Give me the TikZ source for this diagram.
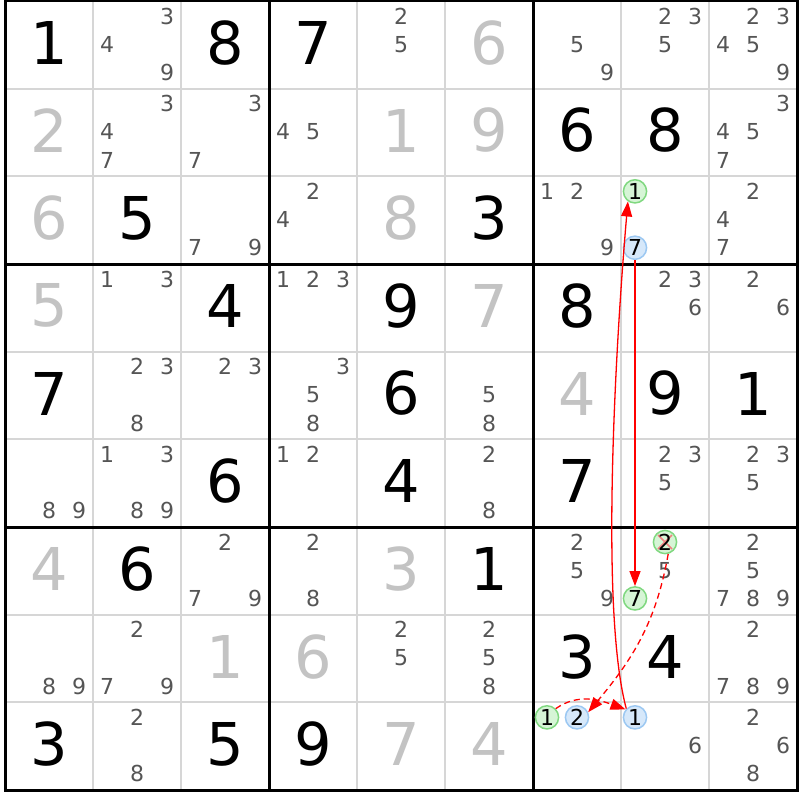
\documentclass[tikz,border=0pt]{standalone}
\usepackage{fontspec}
\setmainfont{DejaVu Sans}
\usetikzlibrary{arrows.meta}
\definecolor{candgray}{HTML}{555555}
\definecolor{givgray}{HTML}{C3C3C3}
\definecolor{gridgray}{HTML}{D6D6D6}
\definecolor{hlgreen}{HTML}{D6F5D6}
\definecolor{hlgreenline}{HTML}{80D880}
\definecolor{hlblue}{HTML}{D6E8FA}
\definecolor{hlblueline}{HTML}{9CC8F2}
\definecolor{xred}{HTML}{F08080}
\newcommand\bigfnt{\fontsize{59pt}{60pt}\selectfont}
\newcommand\candfnt{\fontsize{22pt}{22pt}\selectfont}
\def\gx{5}
\def\gy{1}
\def\W{88}
\def\H{87.67}
\tikzset{
  bigblack/.style={inner sep=0pt,font=\bigfnt,text=black},
  biggray/.style={inner sep=0pt,font=\bigfnt,text=givgray},
  cand/.style={inner sep=0pt,font=\candfnt,text=candgray},
  hl/.style={circle,inner sep=0pt,minimum size=23.2pt,line width=1.5pt,font=\candfnt,text=black},
  hlg/.style={hl,draw=hlgreenline,fill=hlgreen},
  hlb/.style={hl,draw=hlblueline,fill=hlblue},
  thingrid/.style={draw=gridgray,line width=2pt},
  thickgrid/.style={draw=black,line width=3pt,line cap=rect},
  rarr/.style={draw=red,line width=1.3pt,-{Triangle[length=15pt,width=11pt]}},
  dsh/.style={dash pattern=on 6pt off 4pt}
}
\begin{document}
\begin{tikzpicture}[x=1pt,y=1pt]
\useasboundingbox (0,0) rectangle (800,-800);
\fill[white] (0,0) rectangle (800,-800);
% grid
\foreach \i in {1,2,4,5,7,8} {
  \draw[thingrid] ({\gx+\W*\i},{-\gy}) -- ({\gx+\W*\i},{-(\gy+9*\H)});
  \draw[thingrid] ({\gx},{-(\gy+\H*\i)}) -- ({\gx+9*\W},{-(\gy+\H*\i)});
}
\foreach \i in {0,3,6,9} {
  \draw[thickgrid] ({\gx+\W*\i},{-\gy}) -- ({\gx+\W*\i},{-(\gy+9*\H)});
  \draw[thickgrid] ({\gx},{-(\gy+\H*\i)}) -- ({\gx+9*\W},{-(\gy+\H*\i)});
}
% big black digits
\foreach \r/\c/\d in {0/0/1,0/2/8,0/3/7,1/6/6,1/7/8,2/1/5,2/5/3,3/2/4,3/4/9,3/6/8,4/0/7,4/4/6,4/7/9,4/8/1,5/2/6,5/4/4,5/6/7,6/1/6,6/5/1,7/6/3,7/7/4,8/0/3,8/2/5,8/3/9} {
  \pgfmathsetmacro\px{\gx+\W*(\c+0.5)}
  \pgfmathsetmacro\py{-(\gy+\H*(\r+0.5)-2)}
  \node[bigblack] (v\r\c) at (\px,\py) {\d};
}
% big gray digits
\foreach \r/\c/\d in {0/5/6,1/0/2,1/4/1,1/5/9,2/0/6,2/4/8,3/0/5,3/5/7,4/6/4,6/0/4,6/4/3,7/2/1,7/3/6,8/4/7,8/5/4} {
  \pgfmathsetmacro\px{\gx+\W*(\c+0.5)}
  \pgfmathsetmacro\py{-(\gy+\H*(\r+0.5)-2)}
  \node[biggray] (v\r\c) at (\px,\py) {\d};
}
% candidates
\foreach \r/\c/\L in {0/1/{3,4,9},0/4/{2,5},0/6/{5,9},0/7/{2,3,5},0/8/{2,3,4,5,9},
  1/1/{3,4,7},1/2/{3,7},1/3/{4,5},1/8/{3,4,5,7},
  2/2/{7,9},2/3/{2,4},2/6/{1,2,9},2/8/{2,4,7},
  3/1/{1,3},3/3/{1,2,3},3/7/{2,3,6},3/8/{2,6},
  4/1/{2,3,8},4/2/{2,3},4/3/{3,5,8},4/5/{5,8},
  5/0/{8,9},5/1/{1,3,8,9},5/3/{1,2},5/5/{2,8},5/7/{2,3,5},5/8/{2,3,5},
  6/2/{2,7,9},6/3/{2,8},6/6/{2,5,9},6/7/{5},6/8/{2,5,7,8,9},
  7/0/{8,9},7/1/{2,7,9},7/4/{2,5},7/5/{2,5,8},7/8/{2,7,8,9},
  8/1/{2,8},8/7/{6},8/8/{2,6,8}} {
  \foreach \d in \L {
    \pgfmathsetmacro\px{\gx+\W*\c+44+30*(mod(\d-1,3)-1)}
    \pgfmathsetmacro\py{-(\gy+\H*\r+43.2+28.2*(floor((\d-1)/3)-1))}
    \node[cand] (k\r\c\d) at (\px,\py) {\d};
  }
}
% highlighted candidates
\foreach \r/\c/\d in {2/7/1,6/7/7,8/6/1} {
  \pgfmathsetmacro\px{\gx+\W*\c+44+30*(mod(\d-1,3)-1)}
  \pgfmathsetmacro\py{-(\gy+\H*\r+43.2+28.2*(floor((\d-1)/3)-1))}
  \node[hlg] (g\r\c\d) at (\px,\py) {\d};
}
\foreach \r/\c/\d in {2/7/7,8/6/2,8/7/1} {
  \pgfmathsetmacro\px{\gx+\W*\c+44+30*(mod(\d-1,3)-1)}
  \pgfmathsetmacro\py{-(\gy+\H*\r+43.2+28.2*(floor((\d-1)/3)-1))}
  \node[hlb] (b\r\c\d) at (\px,\py) {\d};
}
\pgfmathsetmacro\px{\gx+\W*7+44}
\pgfmathsetmacro\py{-(\gy+\H*6+15)}
\node[hlg,path picture={
  \draw[xred,line width=1.5pt] ([shift={(-7,7)}]path picture bounding box.center) -- ([shift={(7,-7)}]path picture bounding box.center);
  \draw[xred,line width=1.5pt] ([shift={(7,7)}]path picture bounding box.center) -- ([shift={(-7,-7)}]path picture bounding box.center);}]
  (g672) at (\px,\py) {2};
% arrows
\draw[rarr] (b277) -- (g677);
\draw[rarr] (b871.135) to[out=105,in=-95,looseness=0.55] (g271.-125);
\draw[rarr,dsh] (g672.-75) to[out=-100,in=50] (b862.25);
\draw[rarr,dsh] (g861.45) to[out=35,in=160] (b871.140);
\end{tikzpicture}
\end{document}
